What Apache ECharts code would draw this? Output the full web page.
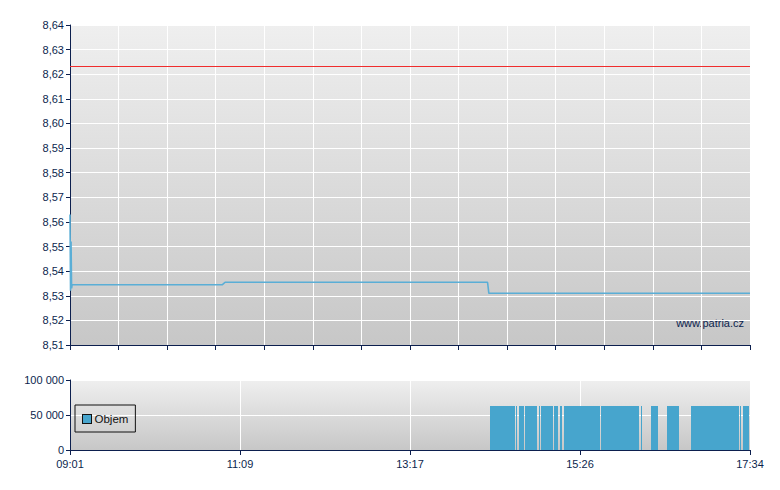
<!DOCTYPE html>
<html>
<head>
<meta charset="utf-8">
<script src="https://cdn.jsdelivr.net/npm/echarts@6/dist/echarts.min.js"></script>
<style>
html,body{margin:0;padding:0;background:#fff}
#c{width:780px;height:490px}
#c svg path[fill="#47a5cd"]{shape-rendering:crispEdges}
#c svg path[stroke="#f02c2c"]{shape-rendering:crispEdges}
</style>
</head>
<body>
<div id="c"></div>
<script>
// Time axis: minutes since 09:01 (session 09:01 - 17:34)
const sessionMinutes = 513;
const timeTickLabels = ['09:01', '11:09', '13:17', '15:26', '17:34'];
const priceTicks = ['8,51','8,52','8,53','8,54','8,55','8,56','8,57','8,58','8,59','8,60','8,61','8,62','8,63','8,64'];

// Price line: [minute, price]
const priceMinutes = [0, 0.4, 0.8, 1.2, 1.6, 2, 115, 117, 315, 316, 513];
const priceValues  = [8.563, 8.532, 8.552, 8.533, 8.5345, 8.5345, 8.5345, 8.5355, 8.5355, 8.531, 8.531];

// Reference (previous close) line
const refPrice = 8.6233;

// Volume per traded minute
const volMinutes = [
 317,318,319,320,321,322,323,324,325,326,327,328,329,330,331,332,333,334,335,337,
 339,340,341,342,344,345,346,347,348,349,350,351,352,354,356,357,358,359,360,361,
 362,363,364,366,367,368,370,371,373,374,375,376,377,378,379,380,381,382,383,384,
 385,386,387,388,389,390,391,392,393,394,395,396,397,398,399,401,402,403,404,405,
 406,407,408,409,410,411,412,413,414,415,416,417,418,419,420,421,422,423,424,425,
 426,427,428,429,431,439,440,441,442,443,451,452,453,454,455,456,457,458,459,469,
 470,471,472,473,474,475,476,477,478,479,480,481,482,483,484,485,486,487,488,489,
 490,491,492,493,494,495,496,497,498,499,500,501,502,503,504,506,508,509,510,511,512
];
const volValues = [
 63000,63000,63000,63000,63000,63000,63000,63000,63000,63000,63000,63000,63000,63000,63000,63000,63000,63000,63000,63000,
 63000,63000,63000,63000,63000,63000,63000,63000,63000,63000,63000,63000,63000,63000,63000,63000,63000,63000,63000,63000,
 63000,63000,63000,63000,63000,63000,63000,63000,63000,63000,63000,63000,63000,63000,63000,63000,63000,63000,63000,63000,
 63000,63000,63000,63000,63000,63000,63000,63000,63000,63000,63000,63000,63000,63000,63000,63000,63000,63000,63000,63000,
 63000,63000,63000,63000,63000,63000,63000,63000,63000,63000,63000,63000,63000,63000,63000,63000,63000,63000,63000,63000,
 63000,63000,63000,63000,63000,63000,63000,63000,63000,63000,63000,63000,63000,63000,63000,63000,63000,63000,63000,63000,
 63000,63000,63000,63000,63000,63000,63000,63000,63000,63000,63000,63000,63000,63000,63000,63000,63000,63000,63000,63000,
 63000,63000,63000,63000,63000,63000,63000,63000,63000,63000,63000,63000,63000,63000,63000,63000,63000,63000,63000,63000,63000
];

const navy = '#0c1f4e';
const font = 'Liberation Sans, Arial, sans-serif';
const bg = {type:'linear', x:0, y:0, x2:0, y2:1, colorStops:[{offset:0,color:'#efefef'},{offset:1,color:'#c7c7c7'}]};

const chart = echarts.init(document.getElementById('c'), null, {renderer:'svg'});
chart.setOption({
  animation:false,
  backgroundColor:'#fff',
  textStyle:{fontFamily:font},
  grid:[
    {left:70, right:30, top:25, height:320, show:true, backgroundColor:bg, borderWidth:0},
    {left:70, right:30, top:380, height:70, show:true, backgroundColor:bg, borderWidth:0}
  ],
  legend:{
    data:['Objem'], left:75, top:405, orient:'vertical',
    borderColor:'#111', borderWidth:1, padding:[8,7,7,7],
    itemWidth:9, itemHeight:9, itemGap:0, icon:'rect',
    itemStyle:{borderColor:'#111', borderWidth:1},
    textStyle:{fontFamily:font, fontSize:11.5, color:'#111', padding:[0,0,0,-2]}
  },
  xAxis:[
    {gridIndex:0, type:'value', min:0, max:sessionMinutes, interval:sessionMinutes/14,
     axisLine:{show:true, onZero:false, lineStyle:{color:navy, width:1}},
     axisTick:{show:true, length:5, lineStyle:{color:navy}},
     axisLabel:{show:false},
     splitLine:{show:true, lineStyle:{color:'#ffffff', width:1}}},
    {gridIndex:1, type:'value', min:0, max:sessionMinutes, interval:sessionMinutes/4,
     axisLine:{show:true, onZero:false, lineStyle:{color:navy, width:1}},
     axisTick:{show:true, length:5, lineStyle:{color:navy}},
     axisLabel:{show:true, color:navy, fontSize:11, fontFamily:font, margin:8,
       formatter:function(v){ const i = Math.round(v/(sessionMinutes/4)); return timeTickLabels[i]; }},
     splitLine:{show:true, lineStyle:{color:'#ffffff', width:1}}}
  ],
  yAxis:[
    {gridIndex:0, type:'value', min:8.51, max:8.64, interval:0.01,
     axisLine:{show:true, lineStyle:{color:navy, width:1}},
     axisTick:{show:true, length:4, lineStyle:{color:navy}},
     axisLabel:{color:navy, fontSize:11, fontFamily:font, margin:6,
       formatter:function(v){ const i = Math.round((v-8.51)/0.01); return priceTicks[i]; }},
     splitLine:{show:true, lineStyle:{color:'#ffffff', width:1}}},
    {gridIndex:1, type:'value', min:0, max:100000, interval:50000,
     axisLine:{show:true, lineStyle:{color:navy, width:1}},
     axisTick:{show:true, length:4, lineStyle:{color:navy}},
     axisLabel:{color:navy, fontSize:11, fontFamily:font, margin:6,
       formatter:function(v){ return String(v).replace(/\B(?=(\d{3})+(?!\d))/g,' '); }},
     splitLine:{show:true, lineStyle:{color:'#ffffff', width:1}}}
  ],
  series:[
    {name:'ref', type:'line', xAxisIndex:0, yAxisIndex:0, symbol:'none', silent:true,
     data:[[0, refPrice],[sessionMinutes, refPrice]],
     lineStyle:{color:'#f02c2c', width:1}},
    {name:'Cena', type:'line', xAxisIndex:0, yAxisIndex:0, symbol:'none',
     data: priceMinutes.map((m,i)=>[m, priceValues[i]]),
     lineStyle:{color:'#5aaed6', width:1.6}},
    {name:'Objem', type:'bar', xAxisIndex:1, yAxisIndex:1,
     data: volMinutes.map((m,i)=>[m, volValues[i]]),
     barWidth:1.33,
     itemStyle:{color:'#47a5cd'}}
  ],
  graphic:[
    {type:'text', right:36, top:317, style:{text:'www.patria.cz', fill:navy, font:'11px '+font}}
  ]
});
</script>
</body>
</html>
